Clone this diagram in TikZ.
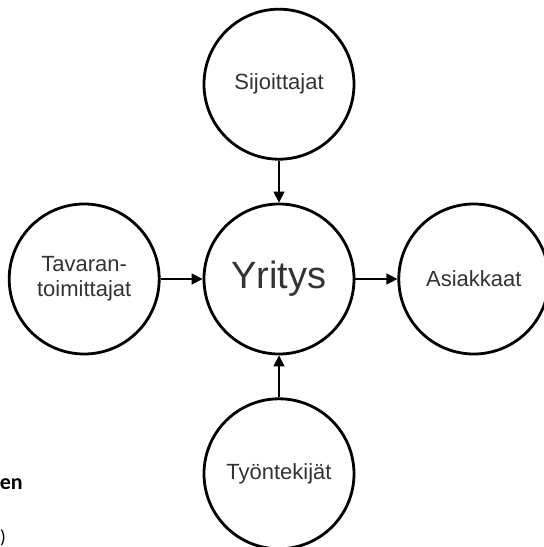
\documentclass[tikz,border=0pt]{standalone}
\usepackage{fontspec}
\usepackage{tikz}
\usetikzlibrary{arrows.meta,positioning}
\newfontfamily\arialfont{Liberation Sans}
\newfontfamily\calibrifont{Carlito}
\definecolor{cText}{HTML}{333333}
\tikzset{
  party/.style={circle, draw=black, line width=2.8pt, fill=white, minimum size=150pt,
                inner sep=0pt, align=center, text=cText, font=\arialfont\fontsize{22}{25}\selectfont},
  core/.style={party, font=\arialfont\fontsize{38}{42}\selectfont},
  flow/.style={-{Triangle[length=11pt,width=11pt]}, line width=1.4pt, draw=black},
  cut/.style={inner sep=0pt, text=black},
}

\begin{document}
\begin{tikzpicture}[x=1pt, y=1pt, node distance=42pt]
  \useasboundingbox (0,0) rectangle (544,547);
  % the company in the middle, its stakeholders round it
  \node[core] (yri) at (279,268) {Yritys};
  \node[party, above=of yri] (sij) {Sijoittajat};
  \node[party, below=of yri] (tyo) {Työntekijät};
  \node[party, left=of yri] (tav) {Tavaran-\\toimittajat};
  \node[party, right=of yri] (asi) {Asiakkaat};
  \draw[flow] (sij) -- (yri);
  \draw[flow] (tyo) -- (yri);
  \draw[flow] (tav) -- (yri);
  \draw[flow] (yri) -- (asi);
  % text cut off at the left margin
  \node[cut, anchor=base east, font=\calibrifont\bfseries\fontsize{22}{24}\selectfont] (en) at (23,57) {en};
  \node[cut, anchor=base west, font=\calibrifont\fontsize{19}{22}\selectfont] (par) at (0,4) {)};
\end{tikzpicture}
\end{document}
